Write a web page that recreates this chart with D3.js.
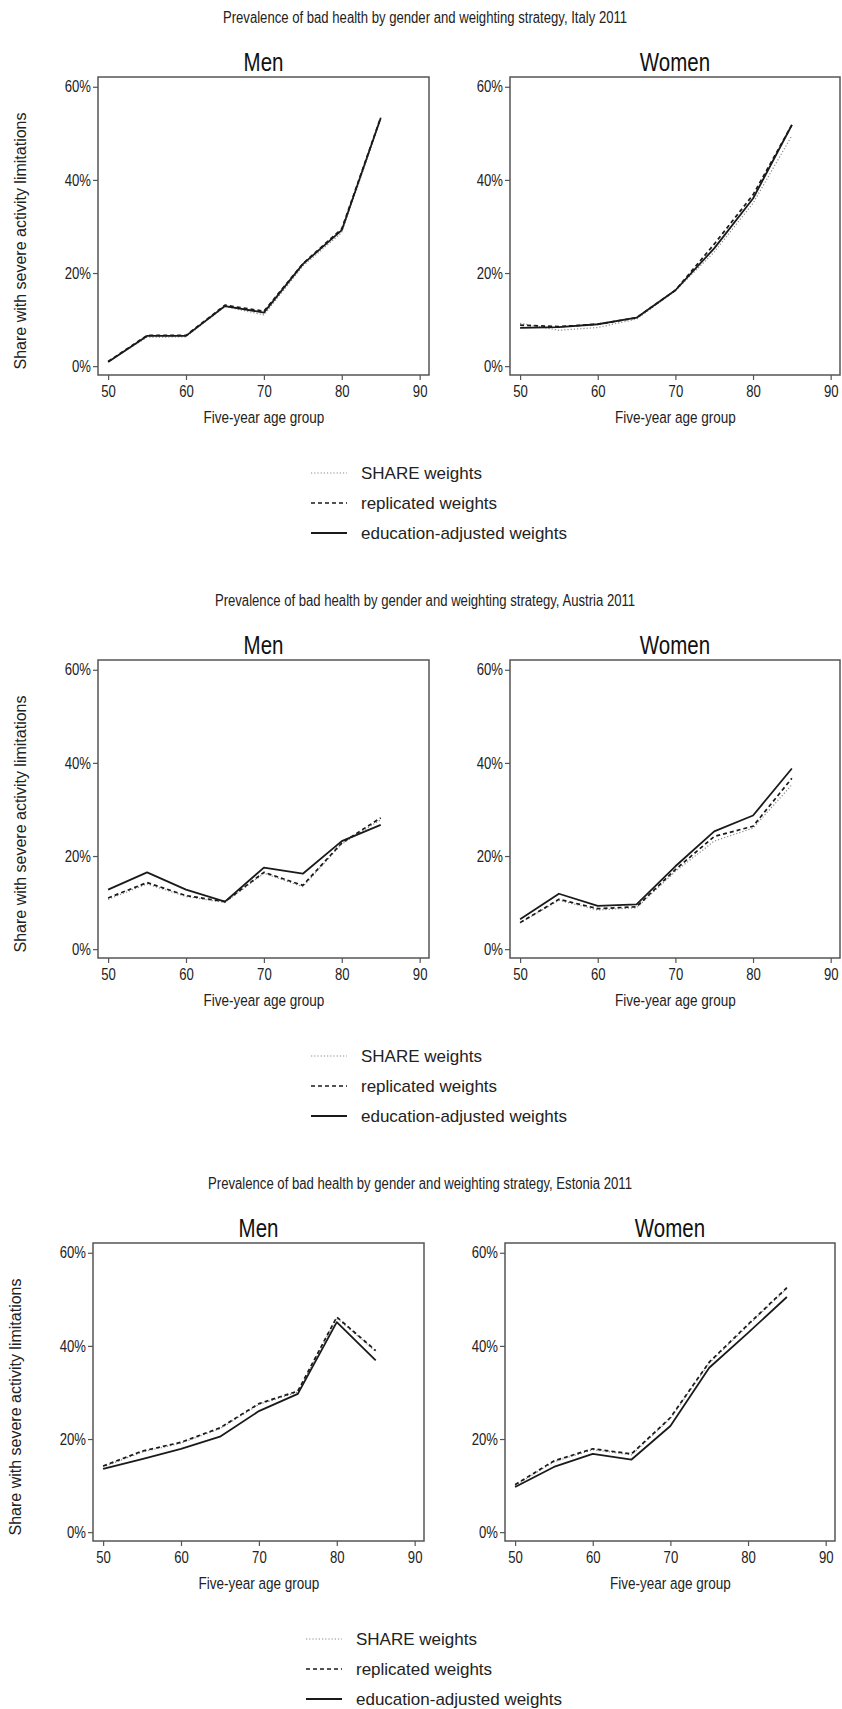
<!DOCTYPE html>
<html>
<head>
<meta charset="utf-8">
<script src="https://cdn.jsdelivr.net/npm/d3@7"></script>
<style>
  body { margin: 0; background: #fff; }
  text { font-family: "Liberation Sans", Arial, sans-serif; }
</style>
</head>
<body>
<div id="chart"></div>
<script>
// data (percent with severe activity limitations)
var ages = [50, 55, 60, 65, 70, 75, 80, 85];
var xTicks = [50, 60, 70, 80, 90];
var yTicks = [0, 20, 40, 60];
var countries = ["Italy", "Austria", "Estonia"];
var genders = ["Men", "Women"];
var seriesNames = ["SHARE weights", "replicated weights", "education-adjusted weights"];

var italyMenShare      = [1.0, 6.2, 6.3, 12.8, 11.0, 21.5, 28.7, 53.0];
var italyMenReplicated = [1.0, 6.6, 6.6, 13.1, 11.8, 22.0, 29.5, 53.4];
var italyMenEducation  = [0.9, 6.5, 6.5, 12.9, 11.5, 21.9, 29.2, 53.3];

var italyWomenShare      = [9.2, 7.7, 8.3, 10.1, 16.2, 24.5, 35.0, 49.5];
var italyWomenReplicated = [8.8, 8.5, 9.0, 10.4, 16.3, 26.2, 36.8, 51.8];
var italyWomenEducation  = [8.2, 8.4, 9.0, 10.4, 16.3, 25.3, 36.0, 51.8];

var austriaMenShare      = [10.7, 14.0, 11.3, 10.0, 16.3, 13.4, 22.6, 27.8];
var austriaMenReplicated = [11.0, 14.3, 11.5, 10.2, 16.5, 13.7, 22.8, 28.2];
var austriaMenEducation  = [12.8, 16.5, 12.8, 10.2, 17.5, 16.2, 23.2, 26.7];

var austriaWomenShare      = [5.6, 10.5, 8.4, 8.9, 16.7, 23.2, 26.0, 35.3];
var austriaWomenReplicated = [5.7, 10.7, 8.7, 9.1, 17.1, 24.2, 26.4, 36.7];
var austriaWomenEducation  = [6.4, 11.9, 9.3, 9.6, 17.8, 25.3, 28.7, 38.8];

var estoniaMenShare      = [14.0, 17.2, 19.1, 22.2, 27.4, 30.1, 46.0, 38.8];
var estoniaMenReplicated = [14.2, 17.4, 19.3, 22.4, 27.6, 30.3, 46.2, 39.0];
var estoniaMenEducation  = [13.6, 15.7, 17.9, 20.5, 26.0, 29.7, 45.1, 36.9];

var estoniaWomenShare      = [10.0, 15.1, 17.7, 16.6, 24.4, 36.3, 44.4, 52.3];
var estoniaWomenReplicated = [10.2, 15.3, 17.9, 16.8, 24.6, 36.5, 44.6, 52.5];
var estoniaWomenEducation  = [9.7, 14.0, 16.8, 15.6, 22.8, 35.3, 42.8, 50.5];

var panels = {
  Italy:   { Men: [italyMenShare, italyMenReplicated, italyMenEducation],
             Women: [italyWomenShare, italyWomenReplicated, italyWomenEducation] },
  Austria: { Men: [austriaMenShare, austriaMenReplicated, austriaMenEducation],
             Women: [austriaWomenShare, austriaWomenReplicated, austriaWomenEducation] },
  Estonia: { Men: [estoniaMenShare, estoniaMenReplicated, estoniaMenEducation],
             Women: [estoniaWomenShare, estoniaWomenReplicated, estoniaWomenEducation] }
};

// line styles per series
var styles = [
  { stroke: "#8a8a8a", width: 1.2, dash: "1.2,2" },
  { stroke: "#1a1a1a", width: 1.7, dash: "4,3" },
  { stroke: "#1a1a1a", width: 1.8, dash: null }
];

var W = 842, H = 1709;
var NARROW = 0.82; // no narrow font installed, squeeze regular sans instead

var svg = d3.select("#chart").append("svg")
  .attr("width", W).attr("height", H);

function narrowText(parent, x, y, size, txt) {
  return parent.append("text")
    .attr("transform", "translate(" + x + "," + y + ") scale(" + NARROW + ",1)")
    .attr("text-anchor", "middle")
    .attr("font-size", size).attr("fill", "#222")
    .text(txt);
}

var blockH = 583;
var shifts = [0, 0, -5];
var plotTop = 77, plotBottom = 375;
var plotX = { Men: [98, 429], Women: [510, 840] };

var y = d3.scaleLinear().domain([-1.9, 62.1]).range([plotBottom, plotTop]);

countries.forEach(function(country, ci) {
  var g = svg.append("g")
    .attr("transform", "translate(" + shifts[ci] + "," + (ci * blockH) + ")");

  narrowText(g, 425, 23, 16,
    "Prevalence of bad health by gender and weighting strategy, " + country + " 2011");

  g.append("text")
    .attr("transform", "translate(26," + ((plotTop + plotBottom) / 2 + 15) + ") rotate(-90)")
    .attr("text-anchor", "middle")
    .attr("font-size", 16).attr("fill", "#222")
    .text("Share with severe activity limitations");

  genders.forEach(function(gender) {
    var x = d3.scaleLinear().domain([48.7, 91.2]).range(plotX[gender]);
    var p = g.append("g");

    narrowText(p, (plotX[gender][0] + plotX[gender][1]) / 2, 71, 25, gender)
      .attr("fill", "#111");

    p.append("rect")
      .attr("x", plotX[gender][0]).attr("y", plotTop)
      .attr("width", plotX[gender][1] - plotX[gender][0])
      .attr("height", plotBottom - plotTop)
      .attr("fill", "none").attr("stroke", "#555").attr("stroke-width", 1.5);

    var ya = p.append("g")
      .attr("transform", "translate(" + plotX[gender][0] + ",0)")
      .call(d3.axisLeft(y).tickValues(yTicks).tickSize(5).tickPadding(2)
        .tickFormat(function(d) { return d + "%"; }));
    var xa = p.append("g")
      .attr("transform", "translate(0," + plotBottom + ")")
      .call(d3.axisBottom(x).tickValues(xTicks).tickSize(5).tickPadding(6));

    [ya, xa].forEach(function(a) {
      a.select(".domain").remove();
      a.selectAll(".tick line").attr("stroke", "#555").attr("stroke-width", 1.2);
      a.selectAll(".tick text")
        .attr("font-family", "Liberation Sans, Arial, sans-serif")
        .attr("font-size", 16).attr("fill", "#222")
        .attr("transform", "scale(" + NARROW + ",1)");
    });
    ya.selectAll(".tick text").attr("x", -7 / NARROW);

    narrowText(p, x(70), 423, 16.5, "Five-year age group");

    var line = d3.line()
      .x(function(d, i) { return x(ages[i]); })
      .y(function(d) { return y(d); });

    panels[country][gender].forEach(function(vals, si) {
      p.append("path")
        .datum(vals)
        .attr("d", line)
        .attr("fill", "none")
        .attr("stroke", styles[si].stroke)
        .attr("stroke-width", styles[si].width)
        .attr("stroke-dasharray", styles[si].dash)
        .attr("stroke-linejoin", "round");
    });
  });

  // legend
  var legendY = [473, 503, 533];
  seriesNames.forEach(function(name, si) {
    g.append("line")
      .attr("x1", 311).attr("x2", 347)
      .attr("y1", legendY[si]).attr("y2", legendY[si])
      .attr("stroke", styles[si].stroke)
      .attr("stroke-width", styles[si].width)
      .attr("stroke-dasharray", styles[si].dash);
    g.append("text")
      .attr("x", 361).attr("y", legendY[si] + 6)
      .attr("font-size", 17).attr("fill", "#222")
      .text(name);
  });
});
</script>
</body>
</html>
